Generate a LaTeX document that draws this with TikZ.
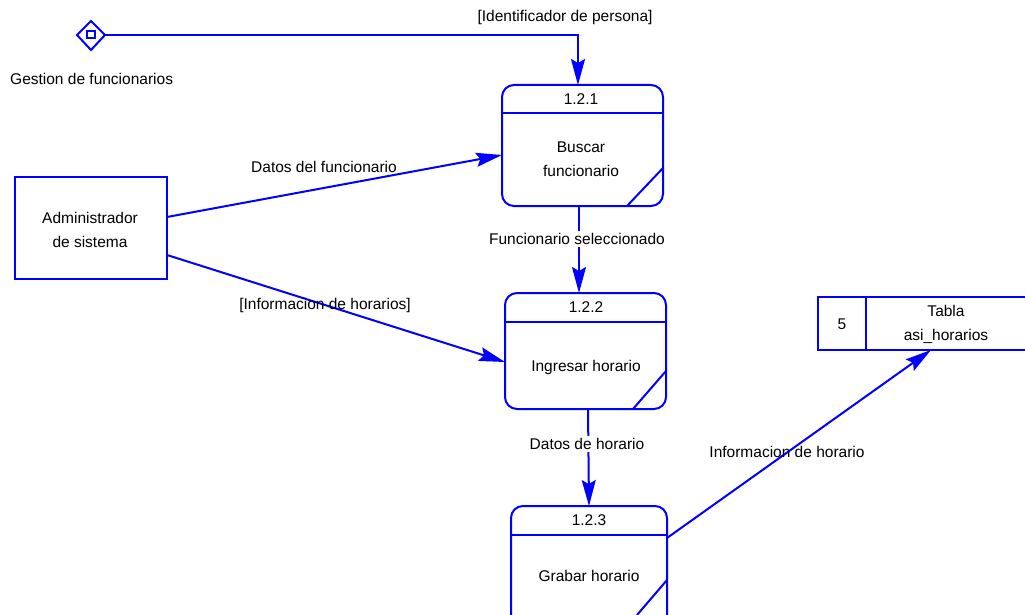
\documentclass[tikz,border=0pt]{standalone}
\usepackage{fontspec}
\setmainfont{Liberation Sans}
\usetikzlibrary{arrows.meta,calc}
\definecolor{dfdblue}{RGB}{0,0,255}
\tikzset{
  flow/.style={draw=dfdblue, line width=2pt, -{Stealth[length=26pt,width=14pt,inset=4pt]}},
  plain/.style={draw=dfdblue, line width=2pt},
  lbl/.style={font=\fontsize{15.5}{24}\selectfont, inner sep=1pt},
  lblw/.style={lbl, fill=white, inner sep=2pt},
  txt/.style={font=\fontsize{15.5}{24}\selectfont, align=center, inner sep=0pt}
}
\newcommand{\procbox}[6]{%
  % #1 name, #2 left, #3 top, #4 right, #5 bottom, #6 header line y
  \draw[plain, rounded corners=12pt] (#2,#3) rectangle (#4,#5);
  \draw[plain] (#2,#6) -- (#4,#6);
  \coordinate (#1-nw) at (#2,#3);
  \coordinate (#1-se) at (#4,#5);
}
\begin{document}
\begin{tikzpicture}[x=1pt,y=-1pt]
\useasboundingbox (0,0) rectangle (1025,615);
\clip (0,0) rectangle (1025,615);

% off-page connector (diamond with square)
\draw[plain] (77,35) -- (91,21) -- (105,35) -- (91,50) -- cycle;
\draw[dfdblue, line width=1.6pt] (87,31) rectangle (95,38);
\coordinate (dia) at (105,35);
\node[txt, anchor=west] (gest) at (10,79) {Gestion de funcionarios};

% external entity
\draw[plain] (15,177) rectangle (167,279);
\node[txt] (admin) at (90,230) {Administrador\\de sistema};
\coordinate (adminA) at (167,217);
\coordinate (adminB) at (167,255);

% process 1.2.1
\procbox{p1}{502}{85}{663}{206}{113}
\draw[plain] (627,206) -- (663,168);
\node[txt] (p1n) at (581,99) {1.2.1};
\node[txt] (p1t) at (581,159) {Buscar\\funcionario};
\coordinate (p1top) at (578,85);
\coordinate (p1left) at (502,155);
\coordinate (p1bot) at (579,206);

% process 1.2.2
\procbox{p2}{505}{293}{666}{409}{322}
\draw[plain] (633,409) -- (666,371);
\node[txt] (p2n) at (586,307) {1.2.2};
\node[txt] (p2t) at (586,367) {Ingresar horario};
\coordinate (p2top) at (579,293);
\coordinate (p2left) at (505,362);
\coordinate (p2bot) at (588,409);

% process 1.2.3
\procbox{p3}{511}{506}{667}{628}{535}
\draw[plain] (637,615) -- (667,580);
\node[txt] (p3n) at (589,520) {1.2.3};
\node[txt] (p3t) at (589,576) {Grabar horario};
\coordinate (p3top) at (589,506);
\coordinate (p3right) at (667,538);

% data store
\draw[plain] (1040,297) -- (818,297) -- (818,350) -- (1040,350);
\draw[plain] (866,297) -- (866,350);
\node[txt] (dsn) at (842,324) {5};
\node[txt] (dst) at (946,324) {Tabla\\asi\_horarios};
\coordinate (dsbot) at (931,350);

% flows
\draw[flow] (dia) -- (578,35) -- (p1top);
\node[lbl] (l0) at (565,17) {[Identificador de persona]};

\draw[flow] (adminA) -- (p1left);
\node[lbl] (l1) at (324,167) {Datos del funcionario};

\draw[flow] (adminB) -- (p2left);
\node[lbl] (l2) at (325,305) {[Informacion de horarios]};

\draw[flow] (p1bot) -- (p2top);
\node[lblw] (l3) at (577,239) {Funcionario seleccionado};

\draw[flow] (p2bot) -- (p3top);
\node[lblw] (l4) at (587,444) {Datos de horario};

\draw[flow] (p3right) -- (dsbot);
\node[lbl] (l5) at (787,452) {Informacion de horario};
\end{tikzpicture}
\end{document}
